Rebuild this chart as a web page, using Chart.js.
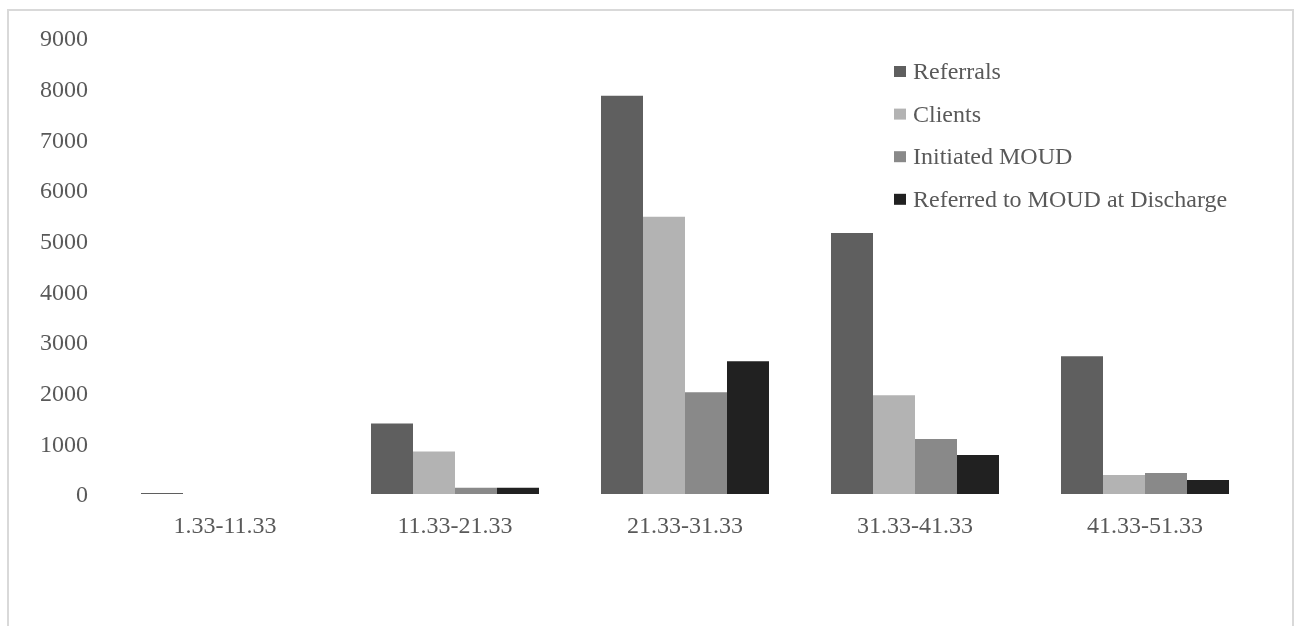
<!DOCTYPE html>
<html>
<head>
<meta charset="utf-8">
<script src="https://cdn.jsdelivr.net/npm/chart.js@4.4.1/dist/chart.umd.min.js"></script>
<style>
  html, body { margin: 0; padding: 0; background: #ffffff; }
  body { width: 1294px; height: 626px; position: relative; overflow: hidden; }
  #frame {
    position: absolute; left: 7px; top: 9px; width: 1287px; height: 700px;
    border: 2px solid #d9d9d9; box-sizing: border-box;
  }
  #wrap { position: absolute; left: 0; top: 0; width: 1294px; height: 626px; }
</style>
</head>
<body>
<div id="frame"></div>
<div id="wrap"><canvas id="chart" width="1294" height="626"></canvas></div>
<script>
// Age ranges on the x axis
const categories = ['1.33-11.33', '11.33-21.33', '21.33-31.33', '31.33-41.33', '41.33-51.33'];

// Counts per age range
const referrals  = [20, 1390, 7860, 5150, 2720];
const clients    = [0, 840, 5470, 1950, 375];
const initiated  = [0, 125, 2010, 1085, 414];
const referredDc = [0, 125, 2620, 770, 276];

const seriesNames  = ['Referrals', 'Clients', 'Initiated MOUD', 'Referred to MOUD at Discharge'];
const seriesColors = ['#5f5f5f', '#b3b3b3', '#898989', '#212121'];

const yMax = 9000;
const yStep = 1000;

const FONT = '"Liberation Serif", "Times New Roman", serif';
const TEXT = '#595959';

// Legend drawn inside the plot area, top right
const innerLegend = {
  id: 'innerLegend',
  afterDraw(chart) {
    const ctx = chart.ctx;
    const area = chart.chartArea;
    const boxX = area.right - 366;
    const textX = boxX + 19;
    const firstBaseline = area.top + 41;
    const rowGap = 42.6;
    ctx.save();
    ctx.font = '24px ' + FONT;
    ctx.textBaseline = 'alphabetic';
    ctx.textAlign = 'left';
    chart.data.datasets.forEach((ds, i) => {
      const base = firstBaseline + i * rowGap;
      ctx.fillStyle = ds.backgroundColor;
      ctx.fillRect(boxX, base - 13, 12, 11);
      ctx.fillStyle = TEXT;
      ctx.fillText(ds.label, textX, base);
    });
    ctx.restore();
  }
};

const seriesData = [referrals, clients, initiated, referredDc];

new Chart(document.getElementById('chart'), {
  type: 'bar',
  data: {
    labels: categories,
    datasets: seriesData.map((values, i) => ({
      label: seriesNames[i],
      data: values,
      backgroundColor: seriesColors[i],
      borderWidth: 0,
      categoryPercentage: 0.7304,
      barPercentage: 1.0
    }))
  },
  options: {
    responsive: false,
    animation: false,
    devicePixelRatio: 1,
    layout: { padding: { top: 38, right: 34, left: 0, bottom: 0 } },
    plugins: {
      legend: { display: false },
      tooltip: { enabled: false }
    },
    scales: {
      x: {
        grid: { display: false, drawTicks: false },
        border: { display: false },
        ticks: {
          color: TEXT,
          font: { family: FONT, size: 24 },
          padding: 18,
          maxRotation: 0
        },
        afterFit(axis) { axis.height = 132; }
      },
      y: {
        min: 0,
        max: yMax,
        grid: { display: false, drawTicks: false },
        border: { display: false },
        ticks: {
          stepSize: yStep,
          color: TEXT,
          font: { family: FONT, size: 24 },
          padding: 22,
          labelOffset: 2,
          callback: (value) => String(value)
        },
        afterFit(axis) { axis.width = 110; }
      }
    }
  },
  plugins: [innerLegend]
});
</script>
</body>
</html>
